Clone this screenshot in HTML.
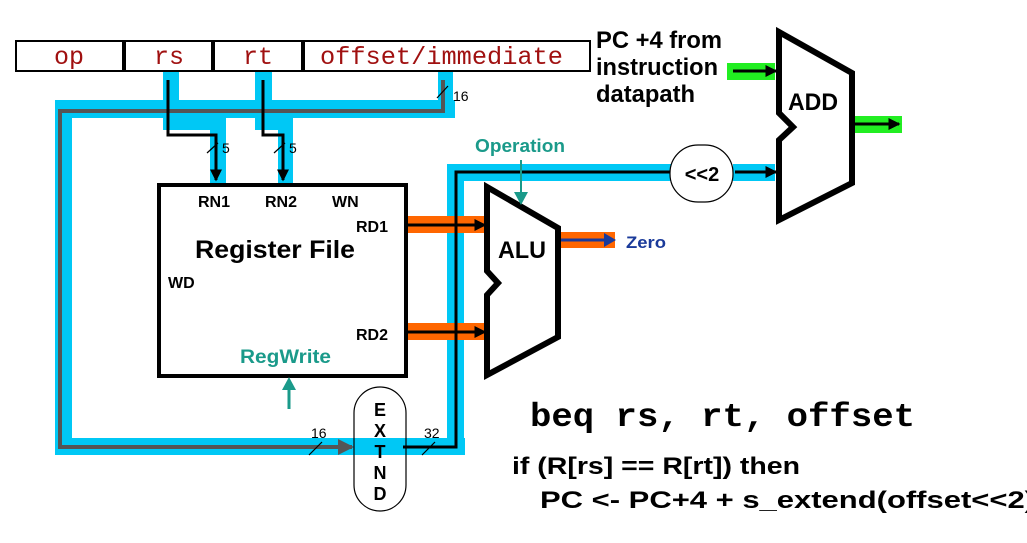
<!DOCTYPE html>
<html><head><style>body{margin:0;background:#fff}svg{display:block}</style></head><body>
<svg width="1027" height="543" viewBox="0 0 1027 543" xmlns="http://www.w3.org/2000/svg" font-family="Liberation Sans, sans-serif">
<defs>
<marker id="ab" markerWidth="4" markerHeight="4" refX="3.5" refY="2" orient="auto" markerUnits="strokeWidth"><path d="M0,0L4,2L0,4z" fill="#000"/></marker>
<marker id="ag" markerWidth="4" markerHeight="4" refX="3.5" refY="2" orient="auto" markerUnits="strokeWidth"><path d="M0,0L4,2L0,4z" fill="#555"/></marker>
</defs>
<g fill="#00c8f5">
<rect x="55" y="100" width="400" height="18"/>
<rect x="55" y="100" width="17" height="355"/>
<rect x="55" y="438" width="410" height="17"/>
<rect x="447" y="164" width="17" height="291"/>
<rect x="447" y="164" width="225" height="17"/>
<rect x="733" y="164" width="42" height="17"/>
<rect x="163" y="71" width="16" height="58"/>
<rect x="163" y="118" width="63" height="12"/>
<rect x="210" y="118" width="16" height="65"/>
<rect x="255" y="71" width="17" height="58"/>
<rect x="255" y="118" width="38" height="12"/>
<rect x="278" y="118" width="15" height="65"/>
<rect x="438" y="71" width="15" height="47"/>
<rect x="354" y="438" width="52" height="17"/>
</g>
<g fill="#ff6600">
<rect x="406" y="216" width="81" height="17"/>
<rect x="406" y="323" width="81" height="17"/>
<rect x="558" y="232" width="57" height="16"/>
</g>
<g fill="#22ee22">
<rect x="727" y="63" width="48" height="17"/>
<rect x="852" y="116" width="50" height="17"/>
</g>
<rect x="16" y="41" width="574" height="30" fill="#fff" stroke="#000" stroke-width="2"/>
<g stroke="#000" stroke-width="4"><line x1="124" y1="41" x2="124" y2="71"/><line x1="213" y1="41" x2="213" y2="71"/><line x1="303" y1="41" x2="303" y2="71"/></g>
<g font-family="Liberation Mono, monospace" font-size="25" fill="#a01010">
<text x="54" y="64" textLength="30" lengthAdjust="spacingAndGlyphs">op</text><text x="154" y="64" textLength="30" lengthAdjust="spacingAndGlyphs">rs</text><text x="243" y="64" textLength="30" lengthAdjust="spacingAndGlyphs">rt</text><text x="320" y="64" textLength="243" lengthAdjust="spacingAndGlyphs">offset/immediate</text></g>
<path d="M443,80V111H60V447H352" fill="none" stroke="#555" stroke-width="4" marker-end="url(#ag)"/>
<g fill="none" stroke="#000" stroke-width="3">
<path d="M168,80V135H216V180" marker-end="url(#ab)"/>
<path d="M263,80V135H283V180" marker-end="url(#ab)"/>
<path d="M403,447H456V172H690"/>
<path d="M735,172H776" marker-end="url(#ab)"/>
<path d="M403,225H485" marker-end="url(#ab)"/>
<path d="M403,332H485" marker-end="url(#ab)"/>
<path d="M733,71H776" marker-end="url(#ab)"/>
<path d="M854,124H899" marker-end="url(#ab)"/>
</g>
<path d="M560,240H608" stroke="#1a3a9a" stroke-width="3" fill="none"/>
<polygon points="604,233 616,240 604,247" fill="#1a3a9a"/>
<g stroke="#000" stroke-width="1.2"><line x1="207" y1="153" x2="218" y2="143"/><line x1="274" y1="153" x2="285" y2="143"/><line x1="437" y1="98" x2="448" y2="86"/><line x1="309" y1="455" x2="322" y2="442"/><line x1="422" y1="455" x2="435" y2="442"/></g>
<g font-size="14" fill="#000"><text x="222" y="153">5</text><text x="289" y="153">5</text><text x="453" y="101">16</text><text x="311" y="438">16</text><text x="424" y="438">32</text></g>
<rect x="159" y="185" width="247" height="191" fill="#fff" stroke="#000" stroke-width="4"/>
<g font-weight="bold" font-size="16" fill="#000"><text x="198" y="207">RN1</text><text x="265" y="207">RN2</text><text x="332" y="207">WN</text><text x="356" y="232">RD1</text><text x="168" y="288">WD</text><text x="356" y="340">RD2</text></g>
<text x="195" y="258" font-weight="bold" font-size="25" textLength="160" lengthAdjust="spacingAndGlyphs">Register File</text>
<text x="240" y="363" font-weight="bold" font-size="19" fill="#1a9a8a" textLength="91" lengthAdjust="spacingAndGlyphs">RegWrite</text>
<line x1="289" y1="409" x2="289" y2="388" stroke="#1a9a8a" stroke-width="3"/><polygon points="282,390 289,377 296,390" fill="#1a9a8a"/>
<rect x="354" y="387" width="52" height="124" rx="26" fill="none" stroke="#000" stroke-width="1.2"/>
<g font-weight="bold" font-size="18" text-anchor="middle"><text x="380" y="416">E</text><text x="380" y="437">X</text><text x="380" y="458">T</text><text x="380" y="479">N</text><text x="380" y="500">D</text></g>
<rect x="670" y="145" width="63" height="57" rx="28" fill="#fff" stroke="#000" stroke-width="1.2"/>
<text x="702" y="181" font-weight="bold" font-size="20" text-anchor="middle">&lt;&lt;2</text>
<polygon points="487,187 558,228 558,337 487,375 487,295 498,283 487,271" fill="#fff" stroke="#000" stroke-width="6"/>
<text x="498" y="258" font-weight="bold" font-size="24" textLength="48" lengthAdjust="spacingAndGlyphs">ALU</text>
<text x="475" y="152" font-weight="bold" font-size="18" fill="#1a9a8a" textLength="90" lengthAdjust="spacingAndGlyphs">Operation</text>
<line x1="521" y1="160" x2="521" y2="194" stroke="#1a9a8a" stroke-width="2"/><polygon points="514,192 521,205 528,192" fill="#1a9a8a"/>
<text x="626" y="248" font-weight="bold" font-size="17" fill="#1a3a9a" textLength="40" lengthAdjust="spacingAndGlyphs">Zero</text>
<polygon points="779,32 852,73 852,183 779,220 779,140 793,127 779,113" fill="#fff" stroke="#000" stroke-width="6"/>
<text x="788" y="110" font-weight="bold" font-size="24" textLength="50" lengthAdjust="spacingAndGlyphs">ADD</text>
<g font-weight="bold" font-size="24"><text x="596" y="48" textLength="126" lengthAdjust="spacingAndGlyphs">PC +4 from</text><text x="596" y="75" textLength="122" lengthAdjust="spacingAndGlyphs">instruction</text><text x="596" y="102" textLength="99" lengthAdjust="spacingAndGlyphs">datapath</text></g>
<text x="530" y="426" font-family="Liberation Mono, monospace" font-weight="bold" font-size="33" textLength="385" lengthAdjust="spacingAndGlyphs">beq rs, rt, offset</text>
<g font-weight="bold" font-size="24"><text x="512" y="474" textLength="288" lengthAdjust="spacingAndGlyphs">if (R[rs] == R[rt]) then</text><text x="540" y="508" textLength="495" lengthAdjust="spacingAndGlyphs">PC &lt;- PC+4 + s_extend(offset&lt;&lt;2)</text></g>
</svg>
</body></html>
